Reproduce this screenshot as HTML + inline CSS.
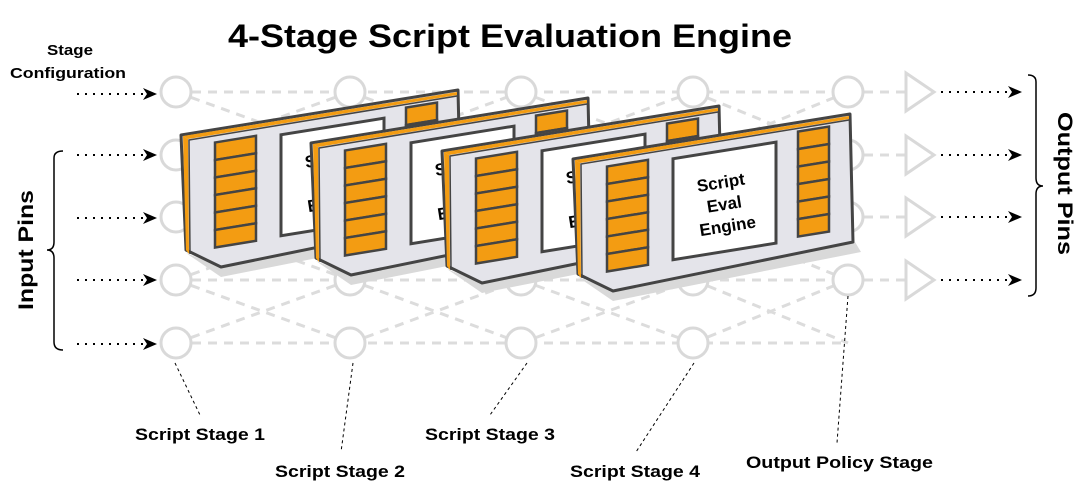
<!DOCTYPE html>
<html><head><meta charset="utf-8"><style>
html,body{margin:0;padding:0;background:#fff;}
svg{display:block;font-family:"Liberation Sans",Arial,sans-serif;}
</style></head><body>
<svg width="1084" height="487" viewBox="0 0 1084 487" xmlns="http://www.w3.org/2000/svg">
<defs>
<marker id="ah" markerWidth="14" markerHeight="12" refX="13" refY="6" orient="auto" markerUnits="userSpaceOnUse">
<path d="M0,0 L14,6 L0,12 L4,6 Z" fill="#000"/>
</marker>
<g id="board">
  <polygon points="5,118 40,142 288,93 282,83 40,132" fill="#d9d9d9"/>
  <polygon points="0,0 277,-45 280,83 40,132 5,115" fill="#e4e4ea" stroke="#444" stroke-width="3" stroke-linejoin="round"/>
  <polygon points="2,1 276,-43 276,-40 7,4" fill="#f39c12"/>
  <polygon points="2,1 7,4 8,119 5,115" fill="#f39c12"/>
  <polyline points="276,-39 8,5 9,119" fill="none" stroke="#444" stroke-width="1.5"/>
  <g transform="skewY(-9.2)">
    <rect x="100" y="16" width="103" height="101" fill="#fff" stroke="#444" stroke-width="3"/>
    <g fill="#f39c12" stroke="#444" stroke-width="2.5">
      <rect x="34" y="13" width="41" height="17.5"/><rect x="34" y="30.5" width="41" height="17.5"/>
      <rect x="34" y="48" width="41" height="17.5"/><rect x="34" y="65.5" width="41" height="17.5"/>
      <rect x="34" y="83" width="41" height="17.5"/><rect x="34" y="100.5" width="41" height="17.5"/>
      <rect x="225" y="9" width="31" height="17.5"/><rect x="225" y="26.5" width="31" height="17.5"/>
      <rect x="225" y="44" width="31" height="17.5"/><rect x="225" y="61.5" width="31" height="17.5"/>
      <rect x="225" y="79" width="31" height="17.5"/><rect x="225" y="96.5" width="31" height="17.5"/>
    </g>
  </g>
  <g transform="translate(151,44) rotate(-9)" font-weight="bold" font-size="17" text-anchor="middle" fill="#000">
    <text x="0" y="-15">Script</text>
    <text x="0" y="7">Eval</text>
    <text x="0" y="29">Engine</text>
  </g>
</g>
</defs>

<text x="228" y="47" font-size="32" font-weight="bold" textLength="564" lengthAdjust="spacingAndGlyphs">4-Stage Script Evaluation Engine</text>

<g stroke="#dcdcdc" stroke-width="3" stroke-dasharray="9,7" fill="none">
  <line x1="176" y1="92" x2="905" y2="92"/>
  <line x1="176" y1="155" x2="905" y2="155"/>
  <line x1="176" y1="217" x2="905" y2="217"/>
  <line x1="176" y1="280" x2="905" y2="280"/>
  <line x1="176" y1="343" x2="848" y2="343"/>
  <path d="M176,92 L350,155 M176,155 L350,92 M176,155 L350,217 M176,217 L350,155 M176,217 L350,280 M176,280 L350,217 M176,280 L350,343 M176,343 L350,280"/>
  <path d="M350,92 L521,155 M350,155 L521,92 M350,155 L521,217 M350,217 L521,155 M350,217 L521,280 M350,280 L521,217 M350,280 L521,343 M350,343 L521,280"/>
  <path d="M521,92 L693,155 M521,155 L693,92 M521,155 L693,217 M521,217 L693,155 M521,217 L693,280 M521,280 L693,217 M521,280 L693,343 M521,343 L693,280"/>
  <path d="M693,92 L848,155 M693,155 L848,92 M693,155 L848,217 M693,217 L848,155 M693,217 L848,280 M693,280 L848,217 M693,280 L848,343 M693,343 L848,280"/>
</g>
<g fill="#fff" stroke="#d9d9d9" stroke-width="3">
  <circle cx="176" cy="92" r="15"/><circle cx="176" cy="155" r="15"/><circle cx="176" cy="217" r="15"/><circle cx="176" cy="280" r="15"/><circle cx="176" cy="343" r="15"/>
  <circle cx="350" cy="92" r="15"/><circle cx="350" cy="155" r="15"/><circle cx="350" cy="217" r="15"/><circle cx="350" cy="280" r="15"/><circle cx="350" cy="343" r="15"/>
  <circle cx="521" cy="92" r="15"/><circle cx="521" cy="155" r="15"/><circle cx="521" cy="217" r="15"/><circle cx="521" cy="280" r="15"/><circle cx="521" cy="343" r="15"/>
  <circle cx="693" cy="92" r="15"/><circle cx="693" cy="155" r="15"/><circle cx="693" cy="217" r="15"/><circle cx="693" cy="280" r="15"/><circle cx="693" cy="343" r="15"/>
  <circle cx="848" cy="92" r="15"/><circle cx="848" cy="155" r="15"/><circle cx="848" cy="217" r="15"/><circle cx="848" cy="280" r="15"/>
  <polygon points="906,73 934,92 906,111"/><polygon points="906,136 934,155 906,174"/>
  <polygon points="906,198 934,217 906,236"/><polygon points="906,261 934,280 906,299"/>
</g>

<use href="#board" transform="translate(181,135)"/>
<use href="#board" transform="translate(311,143)"/>
<use href="#board" transform="translate(442,151)"/>
<use href="#board" transform="translate(573,159)"/>

<g stroke="#000" stroke-width="2" stroke-dasharray="2,6" fill="none" marker-end="url(#ah)">
  <line x1="77" y1="94" x2="156" y2="94"/>
  <line x1="77" y1="155" x2="156" y2="155"/>
  <line x1="77" y1="218" x2="156" y2="218"/>
  <line x1="77" y1="280" x2="156" y2="280"/>
  <line x1="77" y1="344" x2="156" y2="344"/>
  <line x1="941" y1="92" x2="1021" y2="92"/>
  <line x1="941" y1="155" x2="1021" y2="155"/>
  <line x1="941" y1="217" x2="1021" y2="217"/>
  <line x1="941" y1="280" x2="1021" y2="280"/>
</g>

<text x="47" y="55" font-size="15" font-weight="bold" textLength="46" lengthAdjust="spacingAndGlyphs">Stage</text>
<text x="10" y="78" font-size="15" font-weight="bold" textLength="116" lengthAdjust="spacingAndGlyphs">Configuration</text>

<path d="M63,151 Q54,151 54,158 L54,242 Q54,250 47,250 Q54,250 54,258 L54,342 Q54,350 63,350" fill="none" stroke="#000" stroke-width="1.5"/>
<text transform="translate(33,310) rotate(-90)" font-size="21" font-weight="bold" textLength="120" lengthAdjust="spacingAndGlyphs">Input Pins</text>
<path d="M1028,75 Q1036,75 1036,82 L1036,178 Q1036,186 1043,186 Q1036,186 1036,194 L1036,288 Q1036,296 1028,296" fill="none" stroke="#000" stroke-width="1.5"/>
<text transform="translate(1058,112) rotate(90)" font-size="21" font-weight="bold" textLength="143" lengthAdjust="spacingAndGlyphs">Output Pins</text>

<g stroke="#000" stroke-width="1" stroke-dasharray="3,3">
  <line x1="175" y1="363" x2="200" y2="415"/>
  <line x1="353" y1="363" x2="341" y2="452"/>
  <line x1="527" y1="363" x2="490" y2="415"/>
  <line x1="694" y1="363" x2="636" y2="452"/>
  <line x1="848" y1="296" x2="837" y2="443"/>
</g>
<g font-size="17" font-weight="bold">
  <text x="135" y="440" textLength="130" lengthAdjust="spacingAndGlyphs">Script Stage 1</text>
  <text x="275" y="477" textLength="130" lengthAdjust="spacingAndGlyphs">Script Stage 2</text>
  <text x="425" y="440" textLength="130" lengthAdjust="spacingAndGlyphs">Script Stage 3</text>
  <text x="570" y="477" textLength="130" lengthAdjust="spacingAndGlyphs">Script Stage 4</text>
  <text x="746" y="468" textLength="187" lengthAdjust="spacingAndGlyphs">Output Policy Stage</text>
</g>
</svg>
</body></html>
